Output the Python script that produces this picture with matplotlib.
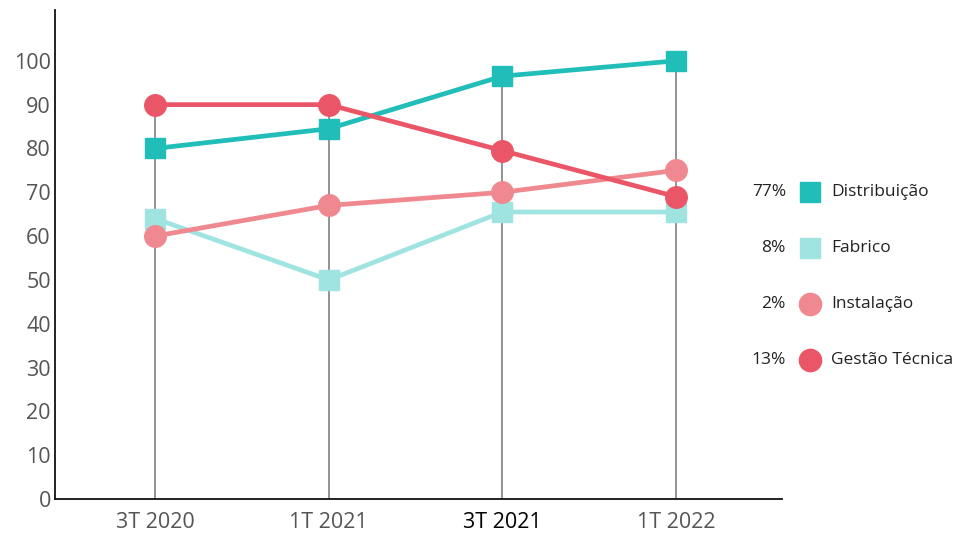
import numpy as np
import matplotlib
matplotlib.use("Agg")
import matplotlib.pyplot as plt
from matplotlib.lines import Line2D

plt.rcParams['font.family'] = ['Open Sans', 'DejaVu Sans']

periodos = ["3T 2020", "1T 2021", "3T 2021", "1T 2022"]
series = ["Distribuição", "Fabrico", "Instalação", "Gestão Técnica"]
distribuicao = [80, 84.5, 96.5, 100]
fabrico = [64, 50, 65.5, 65.5]
instalacao = [60, 67, 70, 75]
gestao = [90, 90, 79.5, 69]
percentagens = ["77%", "8%", "2%", "13%"]

cores = ["#21bdb8", "#a0e4e2", "#f08890", "#ea5667"]
marcadores = ["s", "s", "o", "o"]
valores = [distribuicao, fabrico, instalacao, gestao]

fig = plt.figure(figsize=(9.79, 5.4), dpi=100)
ax = fig.add_axes([0.0562, 0.0759, 0.7426, 0.9056])

x = np.arange(len(periodos))
topo = np.max(np.array(valores), axis=0)
ax.vlines(x, 0, topo, color="#808080", lw=1.2, zorder=1)

for i in range(len(series)):
    ms = 14 if marcadores[i] == "s" else 15.5
    ax.plot(x, valores[i], color=cores[i], lw=3.4, marker=marcadores[i],
            markersize=ms, zorder=2 + i, clip_on=False)

ax.set_xlim(-0.576, 3.61)
ax.set_ylim(0, 111.6)
ax.set_yticks(range(0, 101, 10))
ax.set_xticks(x)
ax.set_xticklabels(periodos)
ax.tick_params(length=0, labelsize=15.5, colors="#555555", pad=9)
ax.tick_params(axis="y", pad=3)
ax.get_xticklabels()[2].set_color("#000000")
for s in ["top", "right"]:
    ax.spines[s].set_visible(False)
for s in ["left", "bottom"]:
    ax.spines[s].set_linewidth(1.3)
    ax.spines[s].set_color("#111111")

# legenda manual
linhas_y = [192, 248, 304, 360]
for i in range(len(series)):
    yf = 1 - linhas_y[i] / 540
    ms = 15 if marcadores[i] == "s" else 16
    fig.add_artist(Line2D([810 / 979], [yf], marker=marcadores[i], color=cores[i],
                          markersize=ms, linestyle="none", transform=fig.transFigure))
    fig.text(786 / 979, yf, percentagens[i], ha="right", va="center",
             fontsize=12.5, color="#222222")
    fig.text(831 / 979, yf, series[i], ha="left", va="center",
             fontsize=12.5, color="#222222")

fig.savefig("out.png", dpi=100)
